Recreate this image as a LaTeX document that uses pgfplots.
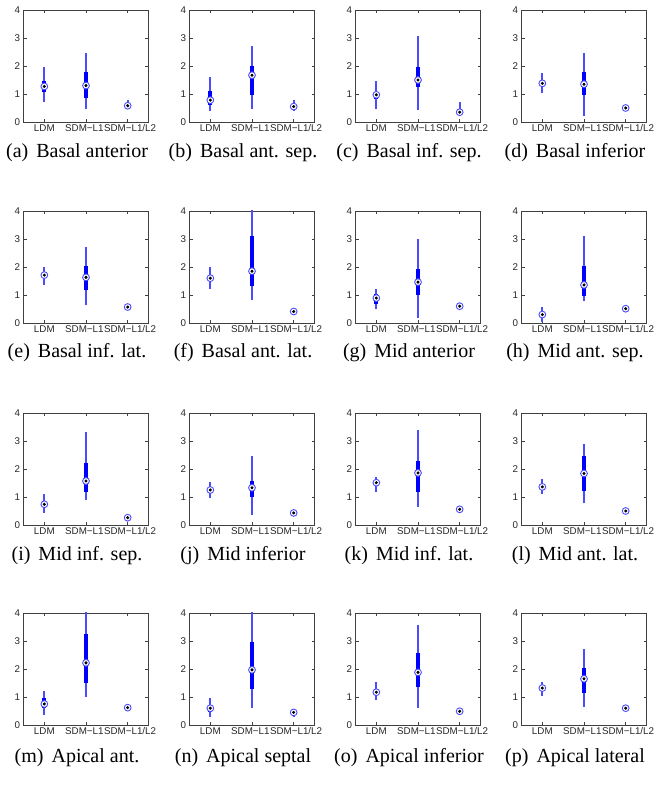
\documentclass[border=0pt]{standalone}
\usepackage{fontspec}
\setmainfont{Liberation Serif}
\newfontfamily\tickfont{Liberation Sans}
\usepackage{pgfplots}
\pgfplotsset{compat=1.18}
\definecolor{mblue}{rgb}{0,0,1}
\definecolor{wblue}{rgb}{0.3,0.3,1}

\pgfplotsset{
  panel/.style={
    width=62.5pt, height=56pt, scale only axis,
    xmin=0.5, xmax=3.5, ymin=0, ymax=4,
    xtick={1,2,3},
    xticklabels={LDM, {\hspace*{-1.6pt}SDM−L1}, {SDM−L1/L2\hspace*{-2.4pt}}},
    ytick={0,1,2,3,4},
    tick align=inside, major tick length=1.5pt,
    axis line style={black!75, line width=0.35pt},
    tick style={black!75, line width=0.3pt},
    tick label style={font=\tickfont\fontsize{4.9}{6}\selectfont, text=black!85},
    /pgf/number format/assume math mode=true,
    xticklabel style={inner sep=1pt},
    yticklabel style={inner sep=1.5pt},
    clip=true,
    whisker/.style={color=wblue, line width=1pt, mark=none},
    box/.style={color=mblue, line width=2pt, mark=none},
  },
}
\newcommand{\capfont}{\fontsize{10}{12}\selectfont}
% \bx{pos}{lower whisker}{q1}{median}{q3}{upper whisker}
\newcommand{\bx}[6]{%
  \addplot[whisker] coordinates {(#1,#2) (#1,#6)};
  \addplot[box] coordinates {(#1,#3) (#1,#5)};
  \addplot[only marks, mark=*, mark size=1.7pt,
           mark options={draw=wblue, fill=white, line width=0.45pt}] coordinates {(#1,#4)};
  \addplot[only marks, mark=*, mark size=0.55pt, mark options={draw=black, fill=black}] coordinates {(#1,#4)};
}
% \panel{x}{y}{caption x}{caption y}{caption}{boxes}
\newcommand{\panel}[6]{%
  \begin{axis}[panel, at={(#1,#2)}, anchor=south west]
    #6
  \end{axis}
  \node[font=\capfont, inner sep=0pt] at (#3,#4) {#5};
}

\begin{document}
\begin{tikzpicture}
\useasboundingbox (0,0) rectangle (329pt,392.5pt);

% row 1
\panel{11.75pt}{331.5pt}{38.5pt}{316pt}{(a)\hspace{4pt}Basal anterior}{%
  \bx{1}{0.70}{1.08}{1.27}{1.45}{1.98}
  \bx{2}{0.45}{0.85}{1.30}{1.80}{2.48}
  \bx{3}{0.45}{0.52}{0.58}{0.65}{0.80}}
\panel{94.75pt}{331.5pt}{121.5pt}{316pt}{(b)\hspace{4pt}Basal ant. sep.}{%
  \bx{1}{0.40}{0.60}{0.78}{1.12}{1.60}
  \bx{2}{0.45}{0.98}{1.67}{2.00}{2.72}
  \bx{3}{0.38}{0.50}{0.55}{0.62}{0.80}}
\panel{177.75pt}{331.5pt}{204.5pt}{316pt}{(c)\hspace{4pt}Basal inf. sep.}{%
  \bx{1}{0.48}{0.82}{0.97}{1.05}{1.48}
  \bx{2}{0.42}{1.25}{1.50}{1.95}{3.07}
  \bx{3}{0.30}{0.33}{0.35}{0.45}{0.70}}
\panel{260.75pt}{331.5pt}{287.5pt}{316pt}{(d)\hspace{4pt}Basal inferior}{%
  \bx{1}{1.02}{1.30}{1.38}{1.45}{1.75}
  \bx{2}{0.22}{0.98}{1.35}{1.78}{2.45}
  \bx{3}{0.40}{0.45}{0.50}{0.55}{0.62}}

% row 2
\panel{11.75pt}{231pt}{38.5pt}{216pt}{(e)\hspace{4pt}Basal inf. lat.}{%
  \bx{1}{1.36}{1.65}{1.71}{1.78}{2.00}
  \bx{2}{0.63}{1.19}{1.63}{2.02}{2.70}
  \bx{3}{0.50}{0.53}{0.57}{0.62}{0.65}}
\panel{94.75pt}{231pt}{121.5pt}{216pt}{(f)\hspace{4pt}Basal ant. lat.}{%
  \bx{1}{1.22}{1.55}{1.60}{1.68}{2.00}
  \bx{2}{0.82}{1.31}{1.85}{3.09}{4.10}
  \bx{3}{0.36}{0.39}{0.41}{0.44}{0.46}}
\panel{177.75pt}{231pt}{204.5pt}{216pt}{(g)\hspace{4pt}Mid anterior}{%
  \bx{1}{0.51}{0.69}{0.89}{1.04}{1.20}
  \bx{2}{0.19}{1.00}{1.46}{1.94}{3.00}
  \bx{3}{0.55}{0.57}{0.60}{0.63}{0.66}}
\panel{260.75pt}{231pt}{287.5pt}{216pt}{(h)\hspace{4pt}Mid ant. sep.}{%
  \bx{1}{0.04}{0.22}{0.30}{0.38}{0.58}
  \bx{2}{0.80}{0.98}{1.36}{2.02}{3.09}
  \bx{3}{0.44}{0.47}{0.51}{0.55}{0.60}}

% row 3
\panel{11.75pt}{130pt}{38.5pt}{114.5pt}{(i)\hspace{4pt}Mid inf. sep.}{%
  \bx{1}{0.44}{0.66}{0.74}{0.80}{1.10}
  \bx{2}{0.89}{1.19}{1.57}{2.23}{3.32}
  \bx{3}{0.22}{0.24}{0.26}{0.29}{0.32}}
\panel{94.75pt}{130pt}{121.5pt}{114.5pt}{(j)\hspace{4pt}Mid inferior}{%
  \bx{1}{0.95}{1.20}{1.25}{1.30}{1.54}
  \bx{2}{0.36}{1.01}{1.33}{1.58}{2.47}
  \bx{3}{0.38}{0.40}{0.43}{0.47}{0.52}}
\panel{177.75pt}{130pt}{204.5pt}{114.5pt}{(k)\hspace{4pt}Mid inf. lat.}{%
  \bx{1}{1.19}{1.45}{1.51}{1.58}{1.71}
  \bx{2}{0.65}{1.19}{1.86}{2.28}{3.38}
  \bx{3}{0.50}{0.53}{0.56}{0.59}{0.62}}
\panel{260.75pt}{130pt}{287.5pt}{114.5pt}{(l)\hspace{4pt}Mid ant. lat.}{%
  \bx{1}{1.09}{1.30}{1.36}{1.42}{1.66}
  \bx{2}{0.77}{1.20}{1.84}{2.45}{2.90}
  \bx{3}{0.45}{0.47}{0.50}{0.53}{0.56}}

% row 4
\panel{11.75pt}{30pt}{38.5pt}{13.5pt}{(m)\hspace{4pt}Apical ant.}{%
  \bx{1}{0.35}{0.60}{0.75}{0.95}{1.20}
  \bx{2}{1.00}{1.50}{2.22}{3.25}{4.10}
  \bx{3}{0.55}{0.58}{0.62}{0.66}{0.70}}
\panel{94.75pt}{30pt}{121.5pt}{13.5pt}{(n)\hspace{4pt}Apical septal}{%
  \bx{1}{0.28}{0.45}{0.60}{0.72}{0.98}
  \bx{2}{0.60}{1.30}{1.97}{2.98}{4.10}
  \bx{3}{0.30}{0.40}{0.45}{0.50}{0.58}}
\panel{177.75pt}{30pt}{204.5pt}{13.5pt}{(o)\hspace{4pt}Apical inferior}{%
  \bx{1}{0.90}{1.10}{1.17}{1.28}{1.52}
  \bx{2}{0.62}{1.35}{1.88}{2.58}{3.58}
  \bx{3}{0.42}{0.45}{0.49}{0.52}{0.56}}
\panel{260.75pt}{30pt}{287.5pt}{13.5pt}{(p)\hspace{4pt}Apical lateral}{%
  \bx{1}{1.05}{1.25}{1.32}{1.40}{1.55}
  \bx{2}{0.65}{1.15}{1.65}{2.02}{2.72}
  \bx{3}{0.55}{0.57}{0.60}{0.63}{0.67}}
\end{tikzpicture}
\end{document}
